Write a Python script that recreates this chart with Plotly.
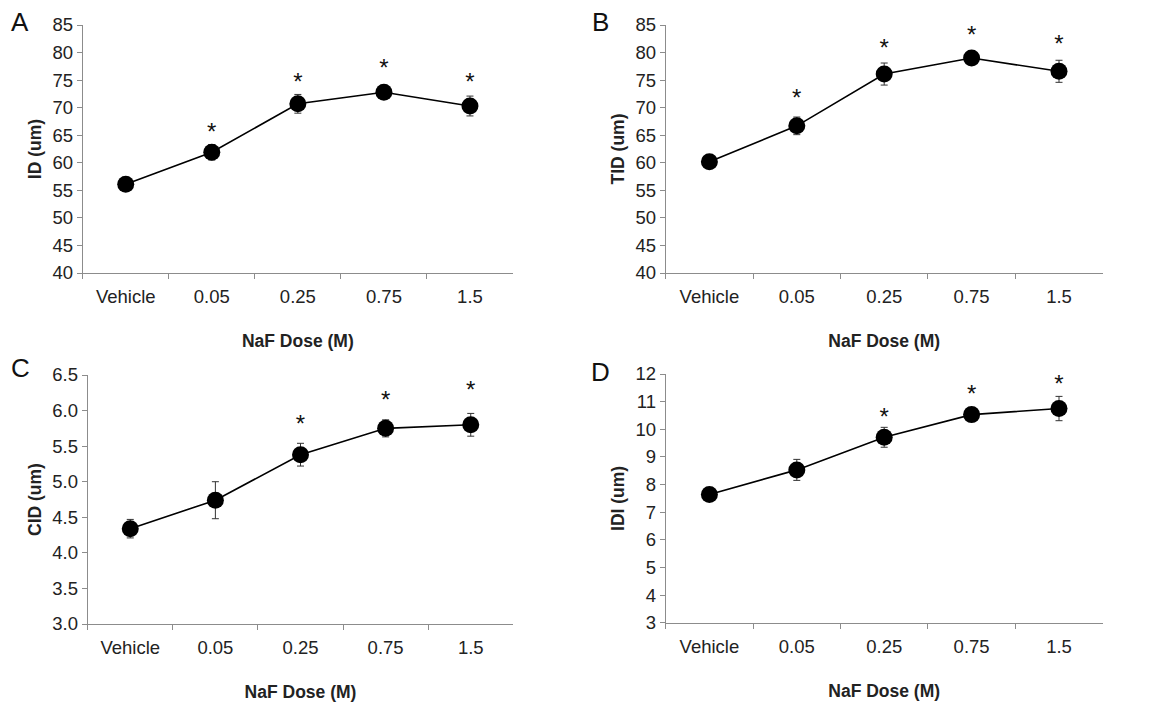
import plotly.graph_objects as go

doses = ["Vehicle", "0.05", "0.25", "0.75", "1.5"]

id_mean = [56.1, 61.9, 70.7, 72.8, 70.3]
id_err = [0.6, 1.4, 1.7, 0.8, 1.8]
id_star_y = [None, 65.3, 74.3, 76.9, 74.3]

tid_mean = [60.2, 66.7, 76.1, 79.0, 76.6]
tid_err = [0.5, 1.6, 2.0, 0.5, 2.0]
tid_star_y = [None, 71.4, 80.5, 82.8, 81.2]

cid_mean = [4.34, 4.74, 5.38, 5.75, 5.80]
cid_err = [0.13, 0.26, 0.16, 0.12, 0.16]
cid_star_y = [None, None, 5.78, 6.12, 6.26]

idi_mean = [7.64, 8.53, 9.71, 10.53, 10.75]
idi_err = [0.1, 0.38, 0.36, 0.1, 0.44]
idi_star_y = [None, None, 10.38, 11.20, 11.56]

# page body has an 8px margin, so the figure is placed at (8, 8)
OFF = 8
W, H = 1149 - 2 * OFF, 702 - OFF


def xdom(a, b):
    return [(a - OFF) / W, (b - OFF) / W]


def ydom(top, bottom):
    return [1 - (bottom - OFF) / H, 1 - (top - OFF) / H]


panels = [
    dict(letter="A", ytitle="ID (um)", mean=id_mean, err=id_err, star=id_star_y,
         yrange=[40, 85], dtick=5, fmt="", xd=xdom(82.7, 513), yd=ydom(25, 273)),
    dict(letter="B", ytitle="TID (um)", mean=tid_mean, err=tid_err, star=tid_star_y,
         yrange=[40, 85], dtick=5, fmt="", xd=xdom(665.7, 1102.7), yd=ydom(25, 273)),
    dict(letter="C", ytitle="CID (um)", mean=cid_mean, err=cid_err, star=cid_star_y,
         yrange=[3.0, 6.5], dtick=0.5, fmt=".1f", xd=xdom(87.7, 513.3), yd=ydom(375, 624)),
    dict(letter="D", ytitle="IDI (um)", mean=idi_mean, err=idi_err, star=idi_star_y,
         yrange=[3, 12], dtick=1, fmt="", xd=xdom(665.7, 1102.7), yd=ydom(374, 622.7)),
]

letter_pos = [(20, 22), (600, 22), (20, 368), (600, 372)]

FONT = "Liberation Sans, Arial, sans-serif"

fig = go.Figure()
layout = dict(
    width=W, height=H,
    margin=dict(l=0, r=0, t=0, b=0, autoexpand=False),
    paper_bgcolor="white", plot_bgcolor="white",
    showlegend=False,
    font=dict(family=FONT, color="#222222", size=17),
)
annotations = []

for i, p in enumerate(panels):
    n = i + 1
    xa = "x" if n == 1 else f"x{n}"
    ya = "y" if n == 1 else f"y{n}"
    fig.add_trace(go.Scatter(
        x=doses, y=p["mean"], xaxis=xa, yaxis=ya,
        mode="lines+markers",
        line=dict(color="black", width=1.6),
        marker=dict(color="black", size=17),
        error_y=dict(type="data", array=p["err"], visible=True,
                     color="#333333", thickness=1, width=3.5),
        cliponaxis=False,
        hoverinfo="skip",
    ))
    sx = [d for d, s in zip(doses, p["star"]) if s is not None]
    sy = [s for s in p["star"] if s is not None]
    fig.add_trace(go.Scatter(
        x=sx, y=sy, xaxis=xa, yaxis=ya, mode="text", text=["*"] * len(sx),
        textposition="middle center",
        textfont=dict(family=FONT, size=24, color="#111111"),
        cliponaxis=False,
        hoverinfo="skip",
    ))
    axis_common = dict(
        showline=True, linecolor="#8c8c8c", linewidth=1,
        showgrid=False, zeroline=False, automargin=False,
        ticks="outside", tickcolor="#8c8c8c", ticklen=5, tickwidth=1,
        tickfont=dict(family=FONT, size=18.5, color="#222222"),
    )
    layout["xaxis" + ("" if n == 1 else str(n))] = dict(
        axis_common, domain=p["xd"], anchor=ya, type="category",
        range=[-0.5, 4.5], tickson="boundaries", ticklabelstandoff=7,
        title=dict(text="<b>NaF Dose (M)</b>", standoff=28,
                   font=dict(family=FONT, size=17.5, color="#222222")),
    )
    layout["yaxis" + ("" if n == 1 else str(n))] = dict(
        axis_common, domain=p["yd"], anchor=xa,
        range=p["yrange"], dtick=p["dtick"], tick0=p["yrange"][0],
        tickformat=p["fmt"],
        title=dict(text=f"<b>{p['ytitle']}</b>", standoff=6,
                   font=dict(family=FONT, size=17.5, color="#222222")),
    )
    lx, ly = letter_pos[i]
    annotations.append(dict(
        text=p["letter"], x=(lx - OFF) / W, y=1 - (ly - OFF) / H,
        xref="paper", yref="paper",
        xanchor="center", yanchor="middle", showarrow=False,
        font=dict(family=FONT, size=26, color="#111111"),
    ))

layout["annotations"] = annotations
fig.update_layout(**layout)
fig.write_html("out.html")
